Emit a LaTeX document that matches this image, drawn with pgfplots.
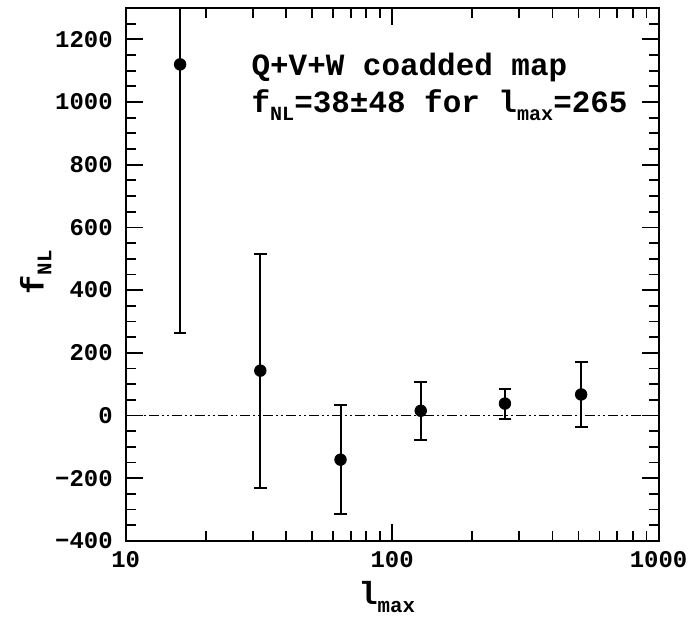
\documentclass[border=0pt]{standalone}
\usepackage{fontspec}
\setmainfont{Liberation Mono}
\usepackage{pgfplots}
\pgfplotsset{compat=1.18}
\newcommand{\sub}[1]{\raisebox{-0.45ex}{\scalebox{0.65}{#1}}}
\begin{document}
\begin{tikzpicture}
\begin{axis}[
    xmode=log,
    width=267pt, height=267pt, scale only axis,
    xmin=10, xmax=1000,
    ymin=-400, ymax=1300,
    xtick={10,100,1000}, xticklabels={10,100,1000},
    minor xtick={20,30,40,50,60,70,80,90,200,300,400,500,600,700,800,900},
    ytick={-400,-200,0,200,400,600,800,1000,1200},
    yticklabels={−400,−200,0,200,400,600,800,1000,1200},
    minor ytick={-350,-300,-250,-150,-100,-50,50,100,150,250,300,350,450,500,550,650,700,750,850,900,950,1050,1100,1150,1250},
    tick align=inside,
    major tick length=8.5pt, minor tick length=5pt,
    every tick/.style={black, line width=0.9pt},
    axis line style={line width=1pt},
    ticklabel style={font=\fontsize{12}{14}\selectfont\bfseries},
    yticklabel style={xshift=-3pt},
    xticklabel style={yshift=-2pt},
    xlabel={l\sub{max}},
    ylabel={f\sub{NL}},
    label style={font=\fontsize{16}{18}\selectfont\bfseries},
    xlabel style={at={(axis description cs:0.49,-0.105)}, anchor=center},
    ylabel style={at={(axis description cs:-0.169,0.504)}, anchor=center},
]
\addplot[black, line width=0.8pt, dash pattern=on 5pt off 1.5pt on 1pt off 1.5pt on 1pt off 1.5pt, forget plot]
    coordinates {(10,0) (1000,0)};
\addplot[black, only marks, mark=*, mark size=2.9pt,
    error bars/y dir=both, error bars/y explicit,
    error bars/error bar style={black, solid, line width=1pt},
    error bars/error mark=-,
    error bars/error mark options={rotate=90, black, solid, mark size=3.2pt, line width=1pt}]
    coordinates {
    (16,1120) +- (0,858)
    (32,143) +- (0,373)
    (64,-141) +- (0,173)
    (128,15) +- (0,93)
    (265,38) +- (0,48)
    (512,67) +- (0,105)
};
\node[anchor=base west, font=\fontsize{15.5}{18}\selectfont\bfseries] at (rel axis cs:0.223,0.874) {Q+V+W coadded map};
\node[anchor=base west, font=\fontsize{15.5}{18}\selectfont\bfseries] at (rel axis cs:0.223,0.803) {f\sub{NL}=38±48 for l\sub{max}=265};
\end{axis}
\path ([shift={(-63pt,-40pt)}]current axis.south west) rectangle ([shift={(284pt,271pt)}]current axis.south west);
\end{tikzpicture}
\end{document}
